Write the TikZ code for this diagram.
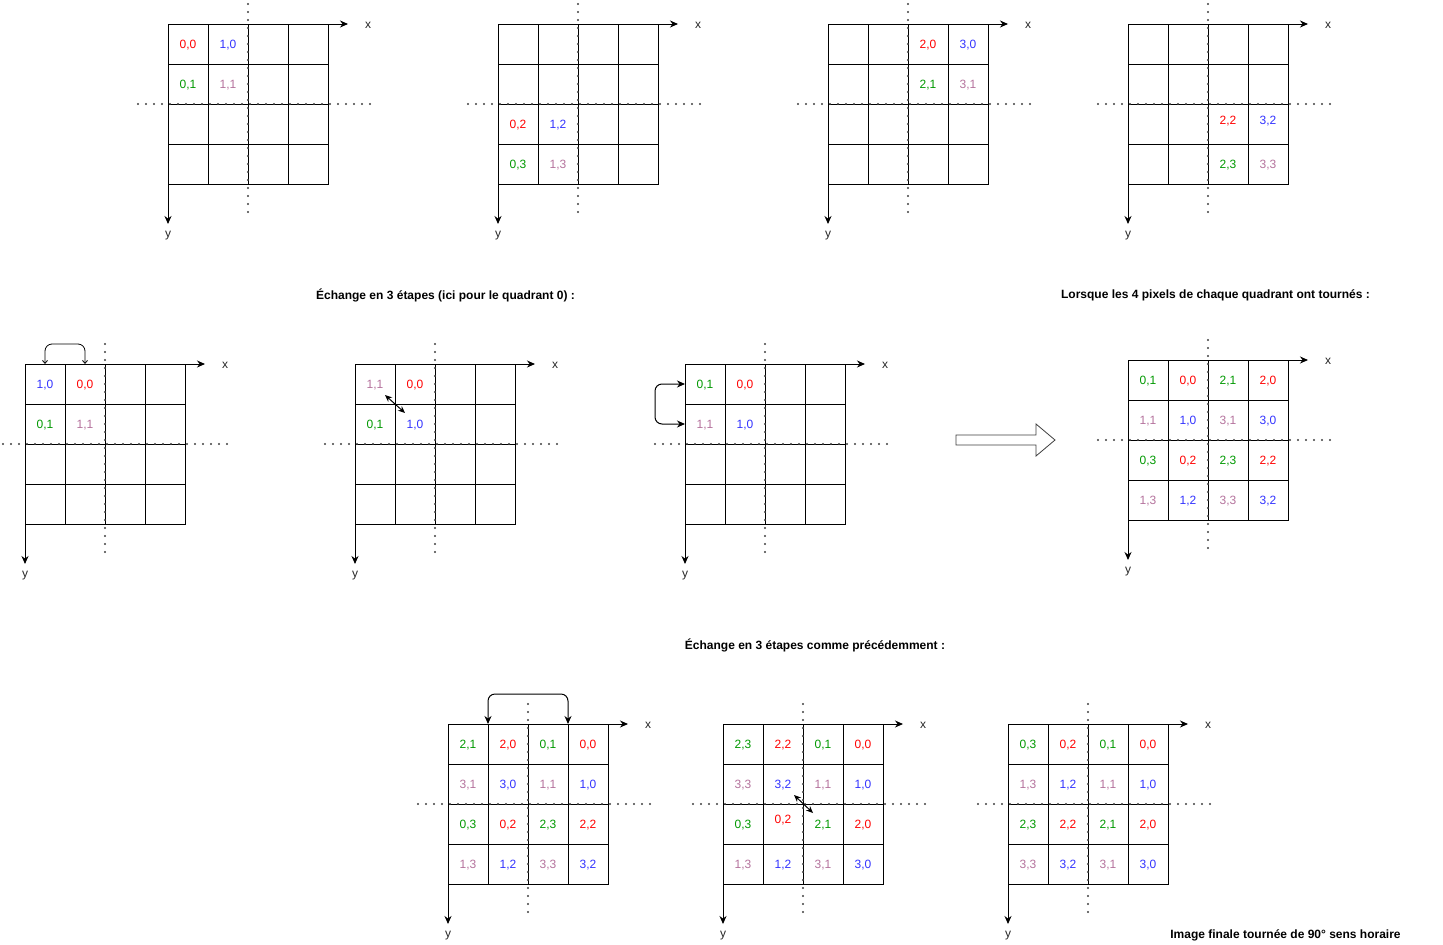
\documentclass[tikz,border=0pt]{standalone}
\usepackage{fontspec}
\setmainfont{Liberation Sans}
\usetikzlibrary{arrows.meta}
\definecolor{cR}{HTML}{FF0000}
\definecolor{cB}{HTML}{3333FF}
\definecolor{cG}{HTML}{009900}
\definecolor{cM}{HTML}{B5739D}
\definecolor{dotc}{HTML}{404040}
\newcommand\pcolor[2]{\ifodd#1\relax\ifodd#2\relax\color{cM}\else\color{cB}\fi\else\ifodd#2\relax\color{cG}\else\color{cR}\fi\fi}
\newcommand\px[5]{\node[lab] (#1-l#2#3) at (#1-c#2#3) {\pcolor{#4}{#5}#4,#5};}
\newcommand\pxs[6]{\node[lab] (#1-l#2#3) at ([yshift=#6]#1-c#2#3) {\pcolor{#4}{#5}#4,#5};}
\begin{document}
\begin{tikzpicture}[x=1pt,y=-1pt,
  cell/.style={draw,line width=1pt,minimum size=40pt,inner sep=0pt,outer sep=0pt},
  lab/.style={font=\fontsize{12}{14}\selectfont,inner sep=0pt,yshift=-1pt},
  axlab/.style={font=\fontsize{12}{14}\selectfont,inner sep=0pt,text=black!85,yshift=-1pt},
  tit/.style={font=\bfseries\fontsize{12}{14}\selectfont,inner sep=0pt,yshift=-1pt},
  dots/.style={draw=dotc,line width=2.3pt,line cap=round,dash pattern=on 0pt off 8pt},
  axis/.style={line width=1pt,-{Stealth[length=8pt,width=7pt]}},
  swp/.style={line width=1pt,rounded corners=7pt,{Stealth[length=8pt,width=7pt]}-{Stealth[length=8pt,width=7pt]}},
  swpopen/.style={line width=0.8pt,rounded corners=7pt,{Straight Barb[length=3pt,width=5pt]}-{Straight Barb[length=3pt,width=5pt]}},
  dbl/.style={line width=1pt,{Stealth[length=7pt,width=6pt]}-{Stealth[length=7pt,width=6pt]}},
  pics/pxgrid/.style={code={
    \foreach \i in {0,...,3}{\foreach \j in {0,...,3}{
      \node[cell] (-c\i\j) at ({20+40*\i},{20+40*\j}) {};}}
    \draw[dots] (-30,80) -- (205,80);
    \draw[dots] (80,-20) -- (80,190);
    \coordinate (-o) at (0,0);
    \coordinate (-xe) at (180,0);
    \coordinate (-ye) at (0,200);
    \draw[axis] (-o) -- (-xe);
    \draw[axis] (-o) -- (-ye);
    \node[axlab] (-xl) at (200,0) {x};
    \node[axlab] (-yl) at (0,211) {y};
  }}
]
\useasboundingbox (0,0) rectangle (1443,945);
\fill[white] (0,0) rectangle (1443,945);

% top row
\pic (t1) at (168,24) {pxgrid};
\pic (t2) at (498,24) {pxgrid};
\pic (t3) at (828,24) {pxgrid};
\pic (t4) at (1128,24) {pxgrid};
\px{t1}{0}{0}{0}{0} \px{t1}{1}{0}{1}{0} \px{t1}{0}{1}{0}{1} \px{t1}{1}{1}{1}{1}
\px{t2}{0}{2}{0}{2} \px{t2}{1}{2}{1}{2} \px{t2}{0}{3}{0}{3} \px{t2}{1}{3}{1}{3}
\px{t3}{2}{0}{2}{0} \px{t3}{3}{0}{3}{0} \px{t3}{2}{1}{2}{1} \px{t3}{3}{1}{3}{1}
\pxs{t4}{2}{2}{2}{2}{4pt} \pxs{t4}{3}{2}{3}{2}{4pt} \px{t4}{2}{3}{2}{3} \px{t4}{3}{3}{3}{3}

% titles
\node[tit] (h1) at (445.5,294) {Échange en 3 étapes (ici pour le quadrant 0) :};
\node[tit] (h2) at (1215.5,294) {Lorsque les 4 pixels de chaque quadrant ont tournés :};
\node[tit] (h3) at (815,644) {Échange en 3 étapes comme précédemment :};
\node[tit] (h4) at (1285.5,934) {Image finale tournée de 90° sens horaire};

% middle row
\pic (m1) at (25,364) {pxgrid};
\pic (m2) at (355,364) {pxgrid};
\pic (m3) at (685,364) {pxgrid};
\pic (f) at (1128,360) {pxgrid};
\px{m1}{0}{0}{1}{0} \px{m1}{1}{0}{0}{0} \px{m1}{0}{1}{0}{1} \px{m1}{1}{1}{1}{1}
\px{m2}{0}{0}{1}{1} \px{m2}{1}{0}{0}{0} \px{m2}{0}{1}{0}{1} \px{m2}{1}{1}{1}{0}
\px{m3}{0}{0}{0}{1} \px{m3}{1}{0}{0}{0} \px{m3}{0}{1}{1}{1} \px{m3}{1}{1}{1}{0}
\foreach \c/\a/\b in {0/0/1,1/0/0,2/2/1,3/2/0} {\px{f}{\c}{0}{\a}{\b}}
\foreach \c/\a/\b in {0/1/1,1/1/0,2/3/1,3/3/0} {\px{f}{\c}{1}{\a}{\b}}
\foreach \c/\a/\b in {0/0/3,1/0/2,2/2/3,3/2/2} {\px{f}{\c}{2}{\a}{\b}}
\foreach \c/\a/\b in {0/1/3,1/1/2,2/3/3,3/3/2} {\px{f}{\c}{3}{\a}{\b}}

\draw[swpopen] (m1-c00.north) -- ++(0,-20) -| (m1-c10.north);
\coordinate (m2-a) at ([shift={(-10,-9)}]m2-c00.south east);
\coordinate (m2-b) at ([shift={(10,9)}]m2-c00.south east);
\draw[dbl] (m2-a) -- (m2-b);
\draw[swp] (m3-c00.west) -- ++(-30,0) |- (m3-c01.west);

% big arrow
\draw[line width=0.8pt,draw=black!75,fill=white] (956,435) -- (1036,435) -- (1036,424) -- (1055,440) -- (1036,456) -- (1036,445) -- (956,445) -- cycle;

% bottom row
\pic (b1) at (448,724) {pxgrid};
\pic (b2) at (723,724) {pxgrid};
\pic (b3) at (1008,724) {pxgrid};
\foreach \c/\a/\b in {0/2/1,1/2/0,2/0/1,3/0/0} {\px{b1}{\c}{0}{\a}{\b}}
\foreach \c/\a/\b in {0/3/1,1/3/0,2/1/1,3/1/0} {\px{b1}{\c}{1}{\a}{\b}}
\foreach \c/\a/\b in {0/0/3,1/0/2,2/2/3,3/2/2} {\px{b1}{\c}{2}{\a}{\b}}
\foreach \c/\a/\b in {0/1/3,1/1/2,2/3/3,3/3/2} {\px{b1}{\c}{3}{\a}{\b}}

\foreach \c/\a/\b in {0/2/3,1/2/2,2/0/1,3/0/0} {\px{b2}{\c}{0}{\a}{\b}}
\foreach \c/\a/\b in {0/3/3,1/3/2,2/1/1,3/1/0} {\px{b2}{\c}{1}{\a}{\b}}
\px{b2}{0}{2}{0}{3} \pxs{b2}{1}{2}{0}{2}{5pt} \px{b2}{2}{2}{2}{1} \px{b2}{3}{2}{2}{0}
\foreach \c/\a/\b in {0/1/3,1/1/2,2/3/1,3/3/0} {\px{b2}{\c}{3}{\a}{\b}}

\foreach \c/\a/\b in {0/0/3,1/0/2,2/0/1,3/0/0} {\px{b3}{\c}{0}{\a}{\b}}
\foreach \c/\a/\b in {0/1/3,1/1/2,2/1/1,3/1/0} {\px{b3}{\c}{1}{\a}{\b}}
\foreach \c/\a/\b in {0/2/3,1/2/2,2/2/1,3/2/0} {\px{b3}{\c}{2}{\a}{\b}}
\foreach \c/\a/\b in {0/3/3,1/3/2,2/3/1,3/3/0} {\px{b3}{\c}{3}{\a}{\b}}

\draw[swp] (b1-c00.north east) -- ++(0,-30) -| (b1-c30.north west);
\coordinate (b2-a) at ([shift={(-9,-9)}]b2-c11.south east);
\coordinate (b2-b) at ([shift={(10,9)}]b2-c11.south east);
\draw[dbl] (b2-a) -- (b2-b);
\end{tikzpicture}
\end{document}
